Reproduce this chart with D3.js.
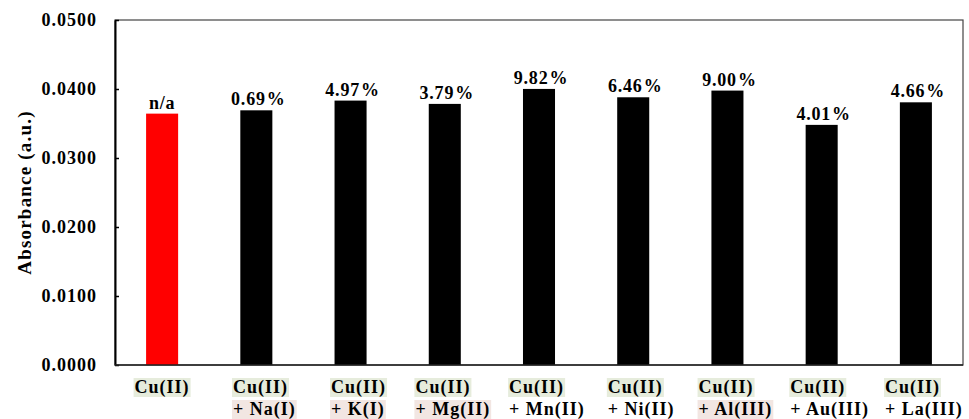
<!DOCTYPE html>
<html>
<head>
<meta charset="utf-8">
<script src="https://cdn.jsdelivr.net/npm/d3@7"></script>
<style>
  body { margin: 0; background: #fff; }
  text { font-family: "Liberation Serif", "Times New Roman", serif; font-weight: bold; fill: #000; }
</style>
</head>
<body>
<svg id="chart" width="969" height="419"></svg>
<script>
// values
var ions = ["Cu(II)", "Na(I)", "K(I)", "Mg(II)", "Mn(II)", "Ni(II)", "Al(III)", "Au(III)", "La(III)"]
var absorbance = [0.03643, 0.03691, 0.03832, 0.03784, 0.04001, 0.03880, 0.03977, 0.03480, 0.03807]
var changeLabels = ["n/a", "0.69", "4.97", "3.79", "9.82", "6.46", "9.00", "4.01", "4.66"]
var yTicks = [0, 0.01, 0.02, 0.03, 0.04, 0.05]

var margin = {left: 115, right: 6, top: 20, bottom: 54}
var screen = {width: 969, height: 419}
var graph = {
    width: screen.width - margin.left - margin.right,
    height: screen.height - margin.top - margin.bottom
}

var svg = d3.select("#chart")
var target = svg.append("g")
    .attr("transform", "translate(" + margin.left + "," + margin.top + ")")

var xScale = d3.scaleBand()
    .domain(d3.range(ions.length))
    .range([0, graph.width])
    .paddingInner(0.66)
    .paddingOuter(0.33)

var yScale = d3.scaleLinear()
    .domain([0, 0.05])
    .range([graph.height, 0])

// frame round the plot
target.append("rect")
    .attr("x", 0).attr("y", 0)
    .attr("width", graph.width).attr("height", graph.height)
    .attr("fill", "none")
    .attr("stroke", "#444")
    .attr("stroke-width", 1.2)

// bars
target.selectAll(".bar")
    .data(absorbance)
    .enter()
    .append("rect")
        .attr("class", "bar")
        .attr("x", function(d, i) { return xScale(i) })
        .attr("width", xScale.bandwidth())
        .attr("y", function(d) { return yScale(d) })
        .attr("height", function(d) { return graph.height - yScale(d) })
        .attr("fill", function(d, i) { return i == 0 ? "#ff0000" : "#000" })

// labels over the bars
var lab = target.selectAll(".pct")
    .data(changeLabels)
    .enter()
    .append("text")
        .attr("class", "pct")
        .attr("x", function(d, i) { return xScale(i) + xScale.bandwidth() / 2 + (i == 0 ? 0 : 2) })
        .attr("y", function(d, i) { return yScale(absorbance[i]) - 5 })
        .attr("text-anchor", "middle")
        .style("font-size", "18px")
        .style("letter-spacing", "0.8px")
lab.append("tspan").text(function(d) { return d })
lab.filter(function(d, i) { return i > 0 })
    .append("tspan").attr("dx", 1).text("%")

// y axis
var yAxis = d3.axisLeft(yScale)
    .tickValues(yTicks)
    .tickFormat(d3.format(".4f"))
    .tickSizeInner(-4)
    .tickSizeOuter(0)
    .tickPadding(18)

var gy = target.append("g").attr("class", "axis-y").call(yAxis)
gy.select(".domain").attr("stroke", "#000").attr("stroke-width", 2)
gy.selectAll(".tick line").attr("stroke", "#000").attr("stroke-width", 1.5)
gy.selectAll(".tick text")
    .style("font-size", "18px")
    .style("letter-spacing", "1px")
    .style("font-family", "Liberation Serif, serif")
    .style("font-weight", "bold")
    .attr("fill", "#000")

target.append("line")
    .attr("x1", 0).attr("x2", graph.width)
    .attr("y1", graph.height).attr("y2", graph.height)
    .attr("stroke", "#222").attr("stroke-width", 1.5)

// y title
svg.append("text")
    .attr("transform", "translate(31," + (margin.top + graph.height / 2) + ") rotate(-90)")
    .attr("text-anchor", "middle")
    .style("font-size", "19px")
    .style("letter-spacing", "1.2px")
    .text("Absorbance (a.u.)")

// x labels, two lines, block shifted a little right of the bar
var pinkRows = [1, 2, 3, 6]
ions.forEach(function(ion, i) {
    var g = svg.append("g")
    var lines = i == 0 ? ["Cu(II)"] : ["Cu(II)", "+ " + ion]
    var texts = lines.map(function(s, k) {
        return g.append("text")
            .attr("y", 393 + k * 22)
            .style("font-size", "18px")
            .style("letter-spacing", "1px")
            .text(s)
    })
    var w = d3.max(texts, function(t) { return t.node().getComputedTextLength() })
    var cx = margin.left + xScale(i) + xScale.bandwidth() / 2 + (i == 0 ? 0 : 8)
    var left = cx - w / 2
    texts.forEach(function(t, k) {
        t.attr("x", left)
        var bb = t.node().getBBox()
        if (k == 0 || pinkRows.indexOf(i) >= 0) {
            g.insert("rect", "text")
                .attr("x", bb.x - 1).attr("y", bb.y + 1)
                .attr("width", bb.width + 2).attr("height", bb.height - 2)
                .attr("fill", k == 0 ? "#e6ecdc" : "#f2e6e2")
        }
    })
})
</script>
</body>
</html>
